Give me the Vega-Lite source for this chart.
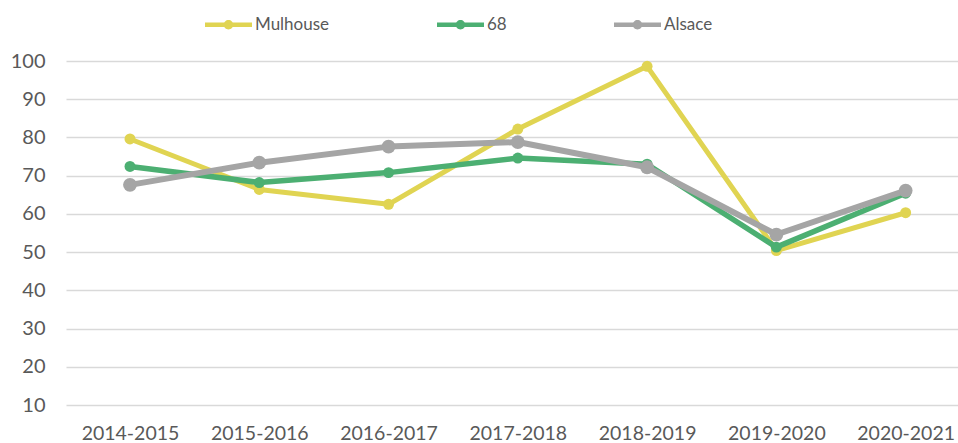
{
  "$schema": "https://vega.github.io/schema/vega-lite/v6.json",
  "autosize": {"type": "none"},
  "width": 892,
  "height": 344,
  "padding": {"left": 66, "top": 61, "right": 0, "bottom": 38},
  "background": "white",
  "config": {
    "view": {"stroke": null},
    "font": "Lato",
    "axis": {"labelFont": "Lato", "labelColor": "#595959"},
    "legend": {"labelFont": "Lato", "labelColor": "#595959"}
  },
  "data": {
    "values": [
      {"year": "2014-2015", "series": "Mulhouse", "value": 79.6},
      {"year": "2015-2016", "series": "Mulhouse", "value": 66.4},
      {"year": "2016-2017", "series": "Mulhouse", "value": 62.5},
      {"year": "2017-2018", "series": "Mulhouse", "value": 82.2},
      {"year": "2018-2019", "series": "Mulhouse", "value": 98.6},
      {"year": "2019-2020", "series": "Mulhouse", "value": 50.4},
      {"year": "2020-2021", "series": "Mulhouse", "value": 60.3},
      {"year": "2014-2015", "series": "68", "value": 72.4},
      {"year": "2015-2016", "series": "68", "value": 68.2},
      {"year": "2016-2017", "series": "68", "value": 70.8},
      {"year": "2017-2018", "series": "68", "value": 74.6},
      {"year": "2018-2019", "series": "68", "value": 73.0},
      {"year": "2019-2020", "series": "68", "value": 51.3},
      {"year": "2020-2021", "series": "68", "value": 65.4},
      {"year": "2014-2015", "series": "Alsace", "value": 67.6},
      {"year": "2015-2016", "series": "Alsace", "value": 73.4},
      {"year": "2016-2017", "series": "Alsace", "value": 77.6},
      {"year": "2017-2018", "series": "Alsace", "value": 78.8},
      {"year": "2018-2019", "series": "Alsace", "value": 72.2},
      {"year": "2019-2020", "series": "Alsace", "value": 54.6},
      {"year": "2020-2021", "series": "Alsace", "value": 66.1}
    ]
  },
  "encoding": {
    "x": {
      "field": "year", "type": "ordinal",
      "scale": {"type": "point", "padding": 0.45, "align": 0.55},
      "axis": {"title": null, "labelAngle": 0, "domain": false, "ticks": false, "grid": false, "labelFontSize": 19.5, "labelPadding": 19}
    },
    "y": {
      "field": "value", "type": "quantitative",
      "scale": {"domain": [10, 100], "nice": false, "zero": false},
      "axis": {"title": null, "values": [10, 20, 30, 40, 50, 60, 70, 80, 90, 100], "domain": false, "ticks": false, "labelFontSize": 20, "labelPadding": 21, "gridColor": "#d9d9d9", "gridWidth": 1.5}
    },
    "color": {
      "field": "series", "type": "nominal",
      "scale": {"domain": ["Mulhouse", "68", "Alsace"], "range": ["#e0d452", "#4caf72", "#a5a5a5"]},
      "legend": {
        "title": null, "orient": "none", "direction": "horizontal", "legendX": 139, "legendY": -60,
        "symbolType": "M-1,-0.1H-0.18V0.1H-1Z M0.18,-0.1H1V0.1H0.18Z M0.2,0A0.2,0.2 0 1,1 -0.2,0A0.2,0.2 0 1,1 0.2,0Z",
        "symbolSize": 2209, "symbolStrokeWidth": 0, "labelFontSize": 17, "labelOffset": 3, "columnPadding": 107,
        "encode": {"symbols": {"update": {"fill": {"scale": "color", "field": "value"}, "fillOpacity": {"value": 1}, "stroke": {"value": "transparent"}, "strokeWidth": {"value": 0}, "size": {"value": 2209}}}}
      }
    }
  },
  "layer": [
    {
      "transform": [{"filter": {"field": "series", "equal": "Mulhouse"}}],
      "mark": {"type": "line", "strokeWidth": 5, "strokeCap": "round", "strokeJoin": "round", "point": {"filled": true, "size": 120, "opacity": 1}}
    },
    {
      "transform": [{"filter": {"field": "series", "equal": "68"}}],
      "mark": {"type": "line", "strokeWidth": 5.5, "strokeCap": "round", "strokeJoin": "round", "point": {"filled": true, "size": 120, "opacity": 1}}
    },
    {
      "transform": [{"filter": {"field": "series", "equal": "Alsace"}}],
      "mark": {"type": "line", "strokeWidth": 6, "strokeCap": "round", "strokeJoin": "round", "point": {"filled": true, "size": 190, "opacity": 1}}
    }
  ]
}
